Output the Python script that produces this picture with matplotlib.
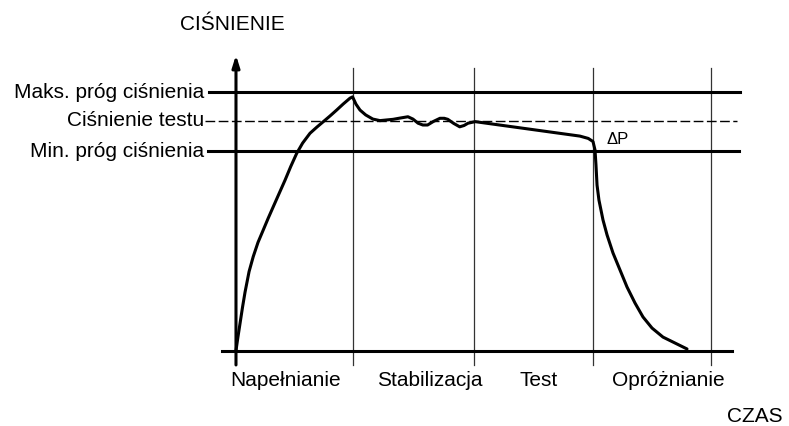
import matplotlib
matplotlib.use('Agg')
import matplotlib.pyplot as plt

plt.rcParams['font.family'] = 'Liberation Sans'

# fazy procesu (granice na osi czasu)
fazy = ['Napełnianie', 'Stabilizacja', 'Test', 'Opróżnianie']
granice_faz = [0.98, 2.0, 3.0, 3.99]

# progi cisnienia
nazwy_progow = ['Maks. próg ciśnienia', 'Ciśnienie testu', 'Min. próg ciśnienia']
progi = [100.0, 89.1, 77.3]

# przebieg cisnienia w czasie
czas = [0.0, 0.017, 0.034, 0.055, 0.076, 0.11, 0.145, 0.185, 0.229, 0.27,
        0.313, 0.36, 0.412, 0.46, 0.51, 0.56, 0.622, 0.68, 0.734, 0.79,
        0.846, 0.90, 0.958, 0.98,
        1.008, 1.042, 1.09, 1.15, 1.21, 1.32, 1.38, 1.445, 1.487, 1.53, 1.57,
        1.61, 1.66, 1.714, 1.75, 1.78, 1.83, 1.88, 1.916, 1.95, 2.01,
        2.89, 2.96, 3.0,
        3.017, 3.025, 3.034, 3.05, 3.084, 3.118, 3.168, 3.227, 3.286, 3.353,
        3.42, 3.496, 3.588, 3.689, 3.79]
cisnienie = [0.0, 5.4, 10.5, 16.8, 22.6, 30.6, 36.4, 41.9, 46.7, 51.2,
             55.7, 60.6, 66.0, 71.3, 76.4, 80.4, 84.2, 86.6, 88.7, 90.9,
             93.2, 95.5, 97.8, 98.3,
             95.5, 93.2, 91.3, 89.7, 89.1, 89.6, 90.1, 90.6, 89.7, 88.1, 87.4,
             87.4, 88.8, 90.0, 90.0, 89.6, 88.0, 86.7, 87.2, 88.1, 88.7,
             83.1, 82.2, 81.0,
             77.7, 71.9, 64.1, 58.3, 50.6, 44.8, 37.8, 31.2, 24.6, 18.4,
             13.0, 8.7, 5.2, 2.9, 0.6]

fig = plt.figure(figsize=(7.89, 4.26), dpi=100)
ax = fig.add_axes([0, 0, 1, 1])
ax.set_xlim(-1.983, 4.647)
ax.set_ylim(-29.26, 135.85)
ax.axis('off')

# linie pionowe oddzielajace fazy
for g in granice_faz:
    ax.plot([g, g], [-5.6, 109.5], color='#333333', linewidth=0.9)

# progi: maks, test (przerywana), min
ax.plot([-0.227, 4.235], [progi[0], progi[0]], color='black', linewidth=2.2)
linia_testu, = ax.plot([-0.26, 4.21], [progi[1], progi[1]], color='black',
                       linewidth=1.0)
linia_testu.set_dashes((7, 2.5))
ax.plot([-0.235, 4.227], [progi[2], progi[2]], color='black', linewidth=2.2)

# os czasu i os cisnienia ze strzalka
ax.plot([-0.118, 4.168], [0, 0], color='black', linewidth=2.2)
ax.annotate('', xy=(0, 114.5), xytext=(0, -5.6),
            arrowprops=dict(arrowstyle='-|>,head_length=0.7,head_width=0.22',
                            color='black', linewidth=2.2, shrinkA=0, shrinkB=0))

# przebieg cisnienia
ax.plot(czas, cisnienie, color='black', linewidth=2.2,
        solid_joinstyle='round', solid_capstyle='round')

# opisy progow
for nazwa, p in zip(nazwy_progow, progi):
    ax.text(-0.269, p, nazwa, ha='right', va='center', fontsize=15)

# opisy faz
srodki_faz = [0.42, 1.63, 2.54, 3.63]
for nazwa, x in zip(fazy, srodki_faz):
    ax.text(x, -11.8, nazwa, ha='center', va='center', fontsize=15)

ax.text(-0.034, 126.2, 'CIŚNIENIE', ha='center', va='center', fontsize=15)
ax.text(4.36, -25.4, 'CZAS', ha='center', va='center', fontsize=15)
ax.text(3.21, 81.9, 'ΔP', ha='center', va='center', fontsize=12)

plt.savefig('out.png', dpi=100)
